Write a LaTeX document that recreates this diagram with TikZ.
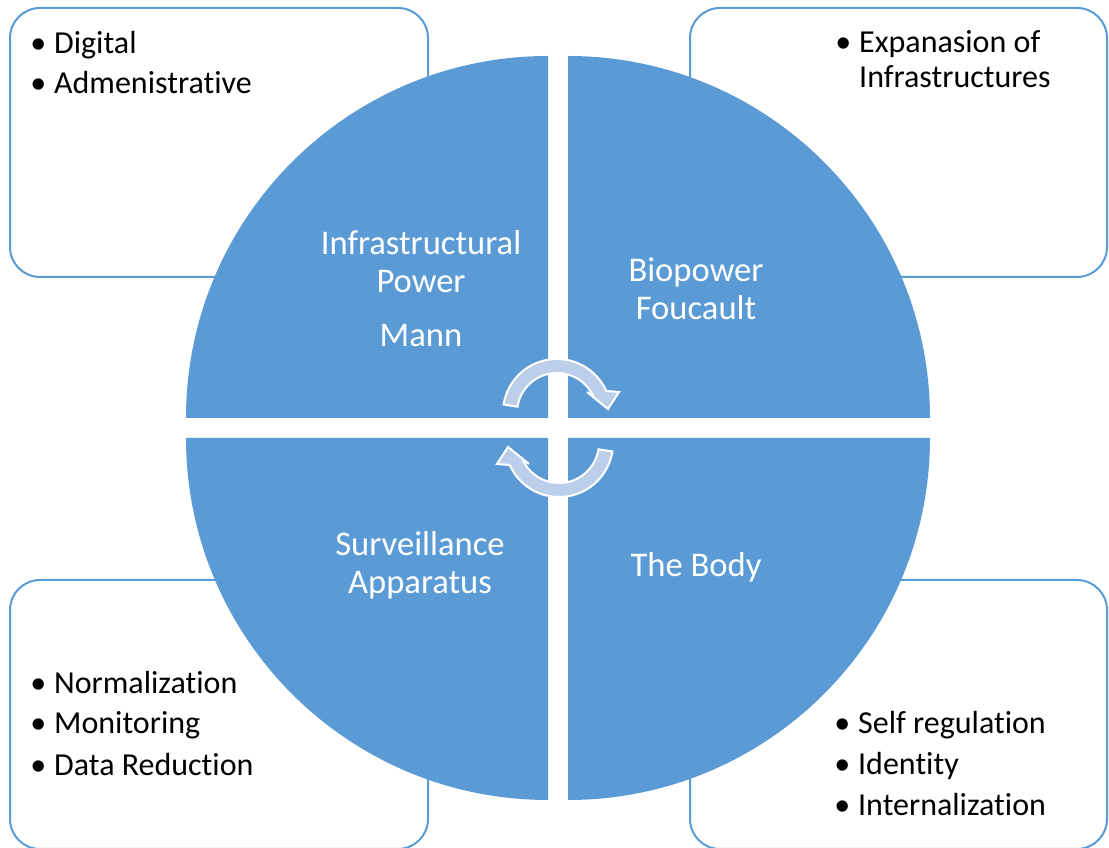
\documentclass[tikz,border=0pt]{standalone}
\usepackage{fontspec}
\setmainfont{Carlito}[Ligatures=NoCommon]
\definecolor{qblue}{HTML}{5B9BD5}
\definecolor{arrowblue}{HTML}{BCCFEA}
\newcommand\itm[1]{\llap{\textbullet\hspace{8pt}}#1}

\begin{document}
\begin{tikzpicture}[x=1pt, y=1pt,
        quad/.style={fill=qblue},
        panel/.style={draw=qblue, line width=2pt, rounded corners=30pt, fill=white},
        cyc/.style={fill=arrowblue, draw=white, line width=2pt},
        lbl/.style={text=white, font=\fontsize{34.6}{38}\selectfont, anchor=base, inner sep=0pt},
        item/.style={font=\fontsize{32}{38}\selectfont, anchor=base west, inner sep=0pt}]
        \useasboundingbox (0,0) rectangle (1109,848);
        \draw[panel] (10,571) rectangle (428,840);
        \draw[panel] (690,571) rectangle (1107,840);
        \draw[panel] (10,-1) rectangle (428,268);
        \draw[panel] (690,-1) rectangle (1107,268);
        \fill[quad] (548,430) -- (186,430) arc[start angle=180, end angle=90, radius=362] -- cycle;
        \fill[quad] (568,430) -- (568,792) arc[start angle=90, end angle=0, radius=362] -- cycle;
        \fill[quad] (548,410) -- (548,48) arc[start angle=270, end angle=180, radius=362] -- cycle;
        \fill[quad] (568,410) -- (930,410) arc[start angle=0, end angle=-90, radius=362] -- cycle;
        \filldraw[cyc] (517.5,441.3) arc[start angle=171, end angle=24, radius=40] -- (587,456) -- (608,439) -- (619,456) -- (606.3,457) arc[start angle=24, end angle=171, radius=54] -- cycle;
        \filldraw[cyc, rotate around={180:(558,420)}] (517.5,441.3) arc[start angle=171, end angle=24, radius=40] -- (587,456) -- (608,439) -- (619,456) -- (606.3,457) arc[start angle=24, end angle=171, radius=54] -- cycle;
        \node[lbl] (infra) at (421,593) {Infrastructural};
        \node[lbl] (power) at (421,555) {Power};
        \node[lbl] (mann) at (421,501) {Mann};
        \node[lbl] (bio) at (696,566) {Biopower};
        \node[lbl] (fouc) at (696,528) {Foucault};
        \node[lbl] (surv) at (420,292) {Surveillance};
        \node[lbl] (appar) at (420,254) {Apparatus};
        \node[lbl] (body) at (696,271) {The Body};
        \node[item] (dig) at (54,794) {\itm{Digital}};
        \node[item] (adm) at (54,754) {\itm{Admenistrative}};
        \node[item] (expan) at (859,795) {\itm{Expanasion of}};
        \node[item] (infr) at (859,760) {Infrastructures};
        \node[item] (norm) at (54,154) {\itm{Normalization}};
        \node[item] (mon) at (54,114) {\itm{Monitoring}};
        \node[item] (dat) at (54,72) {\itm{Data Reduction}};
        \node[item] (self) at (858,114) {\itm{Self regulation}};
        \node[item] (ident) at (858,73) {\itm{Identity}};
        \node[item] (intern) at (858,32) {\itm{Internalization}};
    \end{tikzpicture}
\end{document}
